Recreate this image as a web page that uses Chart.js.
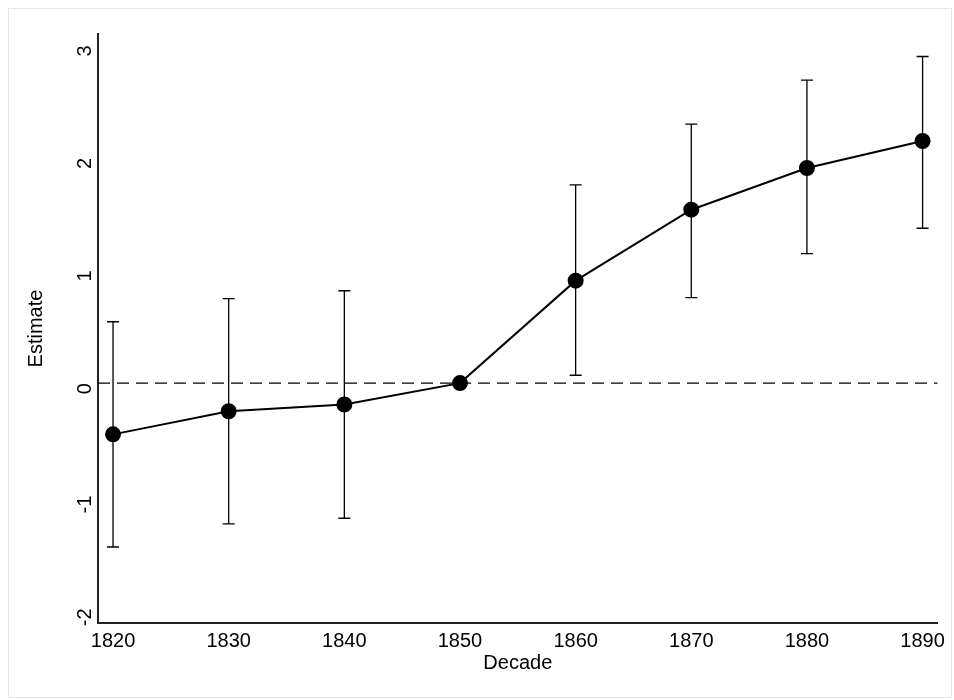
<!DOCTYPE html>
<html><head><meta charset="utf-8">
<script src="https://cdn.jsdelivr.net/npm/chart.js@4"></script>
<style>html,body{margin:0;background:#fff}#w{position:absolute;left:8px;top:8px;width:944px;height:690px;border:1px solid #e6e6e6;box-sizing:border-box}</style>
</head><body><div id="w"><canvas id="c"></canvas></div>
<script>
const decades=[1820,1830,1840,1850,1860,1870,1880,1890];
const estimates=[-0.455,-0.25,-0.19,0,0.91,1.54,1.91,2.15];
const ciHigh=[0.545,0.75,0.82,0,1.76,2.30,2.69,2.90];
const ciLow=[-1.455,-1.25,-1.2,0,0.07,0.76,1.15,1.375];
const yTicks=[-2,-1,0,1,2,3];
const errPlugin={id:'err',afterDatasetsDraw(ch){
  const x=ch.scales.x,y=ch.scales.y,c=ch.ctx;c.save();c.strokeStyle='#000';c.lineWidth=1.3;
  decades.forEach((d,i)=>{if(ciHigh[i]===ciLow[i])return;const px=x.getPixelForValue(d),t=y.getPixelForValue(ciHigh[i]),b=y.getPixelForValue(ciLow[i]);
    c.beginPath();c.moveTo(px,t);c.lineTo(px,b);c.moveTo(px-6,t);c.lineTo(px+6,t);c.moveTo(px-6,b);c.lineTo(px+6,b);c.stroke();});
  c.restore();}};
const F={family:'Liberation Sans, Arial',size:20};
new Chart(document.getElementById('c'),{type:'scatter',
 data:{datasets:[
  {data:decades.map((d,i)=>({x:d,y:estimates[i]})),showLine:true,borderColor:'#000',backgroundColor:'#000',borderWidth:2,pointRadius:7,pointHoverRadius:7,order:0},
  {data:[{x:1818.7,y:0},{x:1891.3,y:0}],showLine:true,borderColor:'#000',borderWidth:1.3,borderDash:[12,7],pointRadius:0,order:1}
 ]},
 plugins:[errPlugin],
 options:{responsive:true,maintainAspectRatio:false,animation:false,
  layout:{padding:{top:25,right:0,left:11,bottom:22}},
  plugins:{legend:{display:false},tooltip:{enabled:false}},
  scales:{
   x:{type:'linear',min:1818.7,max:1891.3,afterBuildTicks:s=>{s.ticks=decades.map(v=>({value:v}))},
     grid:{display:false,drawTicks:false},border:{color:'#222',width:2},
     ticks:{color:'#000',font:F,padding:6,maxRotation:0,callback:v=>String(v)},
     title:{display:true,text:'Decade',color:'#000',font:F,padding:{top:-8,bottom:0}}},
   y:{min:-2.13,max:3.1,afterBuildTicks:s=>{s.ticks=yTicks.map(v=>({value:v}))},
     grid:{display:false,drawTicks:false},border:{color:'#222',width:2},
     ticks:{color:'#000',font:F,minRotation:90,maxRotation:90,padding:13,align:'center'},
     title:{display:true,text:'Estimate',color:'#000',font:F,padding:{top:4,bottom:0}}}
  }}});
</script></body></html>
